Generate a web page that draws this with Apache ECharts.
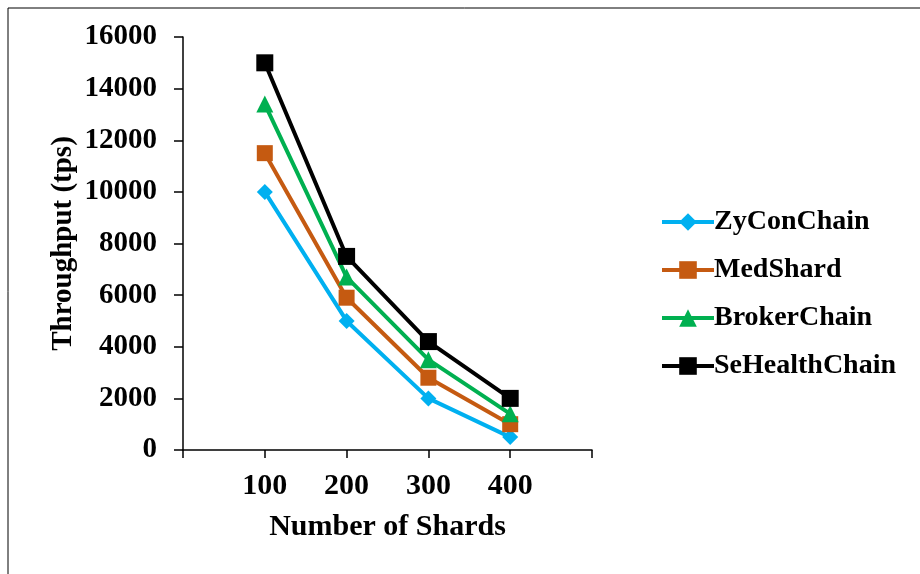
<!DOCTYPE html>
<html>
<head>
<meta charset="utf-8">
<style>
  html, body { margin: 0; padding: 0; background: #fff; }
  #chart-container { width: 920px; height: 574px; }
</style>
<script src="https://cdn.jsdelivr.net/npm/echarts@6/dist/echarts.min.js"></script>
</head>
<body>
<div id="chart-container"></div>
<script>
var shards = [100, 200, 300, 400];
var zyConChain = [10000, 5000, 2000, 500];
var medShard = [11500, 5900, 2800, 1000];
var brokerChain = [13400, 6700, 3500, 1400];
var seHealthChain = [15000, 7500, 4200, 2000];
var xTickLabels = ['100', '200', '300', '400'];

var FONT = "'Liberation Serif', 'Times New Roman', serif";

function pairs(values) {
  return shards.map(function (s, i) { return [s, values[i]]; });
}

var dom = document.getElementById('chart-container');
var myChart = echarts.init(dom, null, { renderer: 'canvas' });

function lineSeries(name, values, color, symbol, size) {
  return {
    name: name,
    type: 'line',
    data: pairs(values),
    symbol: symbol,
    symbolSize: size,
    lineStyle: { color: color, width: 4 },
    itemStyle: { color: color },
    emphasis: { disabled: true },
    animation: false
  };
}

var option = {
  backgroundColor: '#fff',
  graphic: [{
    type: 'rect',
    shape: { x: 8, y: 8, width: 940, height: 600 },
    style: { fill: 'none', stroke: '#000', lineWidth: 1 },
    silent: true
  }],
  grid: { left: 183, right: 328, top: 37, bottom: 124 },
  legend: {
    orient: 'vertical',
    left: 655,
    top: 202,
    itemWidth: 52,
    itemHeight: 22,
    itemGap: 18,
    lineStyle: { width: 4 },
    textStyle: { fontFamily: FONT, fontWeight: 'bold', fontSize: 28, color: '#000', lineHeight: 30, padding: [0, 0, 0, -5] },
    data: ['ZyConChain', 'MedShard', 'BrokerChain', 'SeHealthChain']
  },
  xAxis: {
    type: 'value',
    min: 0,
    max: 500,
    interval: 100,
    name: 'Number of Shards',
    nameLocation: 'middle',
    nameGap: 62,
    nameTextStyle: { fontFamily: FONT, fontWeight: 'bold', fontSize: 30, color: '#000' },
    axisLine: { lineStyle: { color: '#000', width: 1.5 } },
    axisTick: { show: true, length: 8, lineStyle: { color: '#000', width: 1.5 } },
    splitLine: { show: false },
    axisLabel: {
      margin: 21,
      fontFamily: FONT, fontWeight: 'bold', fontSize: 30, color: '#000',
      formatter: function (v) {
        var idx = shards.indexOf(v);
        return idx >= 0 ? xTickLabels[idx] : '';
      }
    }
  },
  yAxis: {
    type: 'value',
    min: 0,
    max: 16000,
    interval: 2000,
    name: 'Throughput (tps)',
    nameLocation: 'middle',
    nameRotate: 90,
    nameGap: 105,
    nameTextStyle: { fontFamily: FONT, fontWeight: 'bold', fontSize: 29, color: '#000' },
    axisLine: { show: true, lineStyle: { color: '#000', width: 1.5 } },
    axisTick: { show: true, length: 9, lineStyle: { color: '#000', width: 1.5 } },
    splitLine: { show: false },
    axisLabel: {
      margin: 26, fontFamily: FONT, fontWeight: 'bold', fontSize: 29, color: '#000',
      padding: [4, 0, 0, 0],
      formatter: function (v) { return String(v); }
    }
  },
  series: [
    lineSeries('ZyConChain', zyConChain, '#00B0F0', 'diamond', 16),
    lineSeries('MedShard', medShard, '#C55A11', 'rect', 16),
    lineSeries('BrokerChain', brokerChain, '#00B050', 'triangle', 17),
    lineSeries('SeHealthChain', seHealthChain, '#000000', 'rect', 17)
  ]
};

myChart.setOption(option);
window.addEventListener('resize', myChart.resize);
</script>
</body>
</html>
